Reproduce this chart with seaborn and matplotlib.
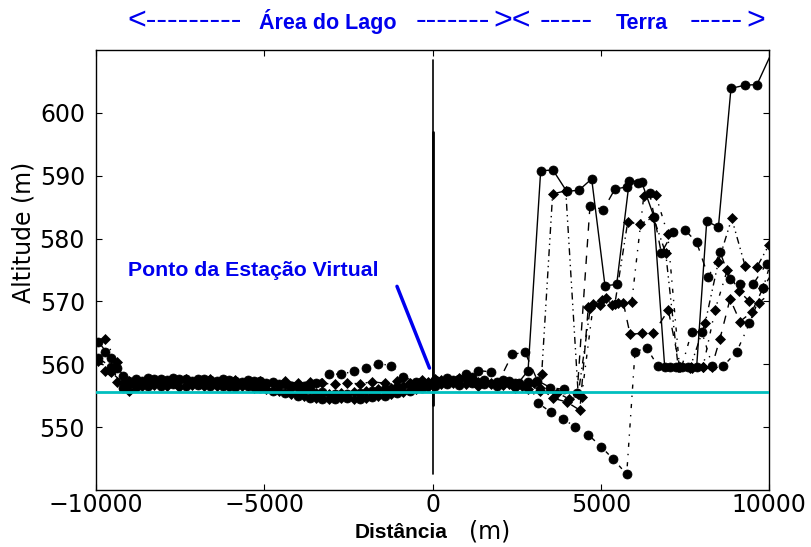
import matplotlib
matplotlib.use("Agg")
import matplotlib.pyplot as plt
import pandas as pd
import seaborn as sns

# Along-track sampling positions (m) over the lake, two interleaved passes
grid_a = [-9930, -9560, -9190, -8820, -8450, -8080, -7710, -7340, -6970, -6600,
          -6230, -5860, -5490, -5120, -4750, -4380, -4010, -3640, -3270, -2900,
          -2530, -2160, -1790, -1420, -1050, -680, -310, 60, 430, 800,
          1170, 1540, 1910]
grid_b = [-9745, -9375, -9005, -8635, -8265, -7895, -7525, -7155, -6785, -6415,
          -6045, -5675, -5305, -4935, -4565, -4195, -3825, -3455, -3085, -2715,
          -2345, -1975, -1605, -1235, -865, -495, -125, 245, 615, 985,
          1355, 1725, 2095]

# Track A (solid, circles)
alt_a_lake = [563.6, 561.0, 558.2, 557.6, 557.8, 557.7, 557.8, 557.6, 557.7, 557.5,
              557.6, 557.4, 557.5, 557.3, 557.2, 556.8, 556.4, 556.0, 555.6, 555.3,
              555.2, 555.4, 555.7, 556.0, 556.4, 556.8, 557.2, 557.5, 557.8, 557.6,
              557.9, 557.5, 557.2]
dist_a_land = [2280, 2560, 2840, 3215, 3580, 3990, 4355, 4730, 5126, 5473, 5850, 6215,
               6580, 6900, 7250, 7600, 7850, 8150, 8496, 8870, 9286, 9643, 10340]
alt_a_land = [557.4, 557.1, 559.0, 590.8, 590.9, 587.5, 587.7, 589.5, 572.5, 572.7,
              589.2, 589.0, 583.5, 559.6, 559.6, 559.5, 559.6, 582.8, 581.8, 603.9,
              604.4, 604.5, 612.6]

# Track B (dash-dot, circles)
alt_b_lake = [562.0, 559.4, 556.8, 557.4, 557.6, 557.5, 557.7, 557.4, 557.6, 557.4,
              557.5, 557.2, 557.4, 557.1, 556.8, 556.6, 556.5, 557.0, 558.5, 558.4,
              558.9, 559.4, 560.1, 559.8, 558.0, 557.2, 557.0, 557.3, 557.5, 558.5,
              559.0, 558.8, 557.5]
dist_b_land = [2465, 2835, 3150, 3510, 3870, 4235, 4630, 5008, 5374, 5771, 6018, 6365,
               6700, 7050, 7400, 7700, 8000, 8320, 8640, 9040, 9420, 9830, 10150]
alt_b_land = [557.0, 557.2, 553.8, 552.4, 551.3, 550.1, 548.8, 546.9, 544.9, 542.5,
              562.0, 562.6, 559.7, 559.6, 559.5, 565.1, 565.2, 559.7, 559.7, 562.0,
              566.5, 572.2, 578.0]

# Track C (dash-dot-dot, diamonds)
alt_c_lake = [560.6, 558.8, 557.0, 557.3, 557.2, 557.5, 557.3, 557.6, 557.4, 557.6,
              557.3, 557.5, 557.2, 557.4, 557.1, 557.3, 557.0, 557.2, 557.0, 556.8,
              557.0, 556.9, 557.2, 557.0, 557.3, 557.1, 557.5, 557.6, 557.4, 557.8,
              557.5, 557.3, 557.0]
dist_c_land = [2280, 2650, 3020, 3245, 3570, 3960, 4330, 4690, 5050, 5420, 5800, 6180,
               6560, 6930, 7300, 7650, 8100, 8496, 8892, 9287, 9633, 10000]
alt_c_land = [556.8, 556.6, 557.0, 558.5, 587.1, 587.6, 555.2, 569.0, 570.3, 569.6,
              582.6, 582.3, 583.4, 577.7, 559.6, 559.4, 566.5, 576.3, 583.2, 575.7,
              575.4, 579.0]

# Track D (dashed, diamonds)
alt_d_lake = [559.0, 557.2, 555.8, 556.5, 556.7, 556.6, 556.4, 556.7, 556.5, 556.6,
              556.4, 556.5, 556.3, 556.0, 555.7, 555.3, 554.9, 554.6, 554.4, 554.6,
              554.5, 554.7, 554.9, 555.2, 555.6, 556.0, 556.4, 556.8, 557.0, 556.8,
              556.6, 556.9, 556.7]
dist_d_land = [2465, 2835, 3205, 3590, 3990, 4380, 4630, 4978, 5324, 5670, 5870, 6215,
               6560, 7008, 7350, 7700, 8050, 8300, 8545, 8843, 9138, 9485, 9830, 10150]
alt_d_land = [556.5, 556.8, 556.2, 554.6, 554.0, 552.7, 569.1, 569.5, 569.5, 569.8,
              564.8, 564.9, 564.9, 568.6, 559.6, 559.4, 559.6, 559.6, 564.1, 570.4,
              566.8, 568.3, 572.2, 575.0]

# Track E (dashed, circles)
alt_e_lake = [561.0, 559.6, 556.2, 556.4, 556.6, 556.5, 556.8, 556.6, 556.7, 556.5,
              556.6, 556.4, 556.5, 556.2, 555.8, 555.4, 555.0, 554.6, 554.5, 554.4,
              554.6, 554.5, 554.8, 555.0, 555.4, 555.8, 556.2, 556.6, 556.9, 556.7,
              557.0, 556.8, 556.6]
dist_e_land = [2370, 2750, 3120, 3500, 3900, 4300, 4680, 5077, 5424, 5771, 6100, 6450,
               6800, 7150, 7500, 7850, 8200, 8550, 8843, 9138, 9534, 9930]
alt_e_land = [561.6, 561.9, 557.4, 556.3, 556.0, 555.5, 585.2, 584.6, 587.9, 588.2,
              588.8, 587.3, 577.7, 581.1, 581.4, 579.4, 573.9, 577.8, 573.5, 572.8,
              572.8, 576.0]

# Track F (dash-dot, diamonds)
alt_f_lake = [564.0, 560.4, 557.4, 557.0, 557.2, 557.0, 557.3, 557.1, 557.2, 557.0,
              557.1, 556.9, 557.0, 556.7, 556.5, 556.2, 555.8, 555.5, 555.3, 555.4,
              555.6, 555.8, 556.0, 556.3, 556.6, 556.9, 557.2, 557.5, 557.3, 557.6,
              557.2, 557.0, 556.8]
dist_f_land = [2465, 2835, 3205, 3700, 4050, 4430, 4780, 5150, 5520, 5920, 6280, 6630,
               6990, 7340, 7690, 8040, 8400, 8760, 9100, 9400, 9700, 10200]
alt_f_land = [556.3, 556.0, 555.8, 555.5, 554.5, 554.8, 569.6, 570.6, 569.8, 569.9,
              586.8, 587.0, 580.7, 559.6, 559.5, 559.6, 568.7, 575.0, 571.7, 570.1,
              569.8, 572.0]

# Reference water level and virtual station
water_level = 555.6
station_dist = 0
station_alt = [542.5, 608.4]
station_core = [553.5, 597.0]

x_ticks = [-10000, -5000, 0, 5000, 10000]
y_ticks = [550, 560, 570, 580, 590, 600]

sns.set_style("ticks")
plt.rcParams["font.family"] = ["DejaVu Sans"]
plt.rcParams["text.color"] = "black"
plt.rcParams["axes.labelcolor"] = "black"
plt.rcParams["xtick.direction"] = "in"
plt.rcParams["ytick.direction"] = "in"

W, H = 811, 547
fig = plt.figure(figsize=(W / 100, H / 100), dpi=100)
ax = fig.add_axes([96 / W, 57 / H, 673 / W, 440 / H])

dashdotdot = (0, (5, 3, 1, 3, 1, 3))
tracks = [
    (grid_a, alt_a_lake, dist_a_land, alt_a_land, "-", "o", 6.5),
    (grid_b, alt_b_lake, dist_b_land, alt_b_land, (0, (3, 5, 1, 5)), "o", 6.5),
    (grid_a, alt_c_lake, dist_c_land, alt_c_land, dashdotdot, "D", 5.2),
    (grid_b, alt_d_lake, dist_d_land, alt_d_land, (0, (6, 6)), "D", 5.2),
    (grid_a, alt_e_lake, dist_e_land, alt_e_land, (0, (6, 6)), "o", 6.5),
    (grid_b, alt_f_lake, dist_f_land, alt_f_land, (0, (3, 5, 1, 5)), "D", 5.2),
]
for lake_x, lake_y, land_x, land_y, ls, mk, ms in tracks:
    df = pd.DataFrame({"dist": list(lake_x) + list(land_x),
                       "alt": list(lake_y) + list(land_y)})
    sns.lineplot(data=df, x="dist", y="alt", ax=ax, color="black", linestyle=ls,
                 linewidth=1.0, marker=mk, markersize=ms, markeredgecolor="black",
                 markeredgewidth=0.5, estimator=None, sort=False, legend=False,
                 zorder=3)

ax.axhline(water_level, color=(0, 0.75, 0.75), linewidth=2, zorder=5)
ax.plot([station_dist, station_dist], station_alt, color="black", linewidth=1.2, zorder=4)
ax.plot([station_dist, station_dist], station_core, color="black", linewidth=2.0, zorder=4)

ax.set_xlim(-10000, 10000)
ax.set_ylim(540, 610)
ax.set_xticks(x_ticks)
ax.set_yticks(y_ticks)
ax.tick_params(axis="both", which="both", direction="in", length=4, width=0.8,
               top=True, right=True, labelsize=17, colors="black")
ax.tick_params(axis="x", pad=2)
ax.tick_params(axis="y", pad=8)
for s in ax.spines.values():
    s.set_linewidth(1.0)
    s.set_color("black")
ax.set_xlabel("")
ax.set_ylabel("")

# Axis titles
fig.text(24 / W, 1 - 232 / H, "Altitude (m)", rotation=90, ha="center", va="center",
         fontsize=17, color="black")
fig.text(401 / W, 1 - 532 / H, "Distância", ha="center", va="center", fontsize=15,
         fontweight="bold", color="black", family=["Liberation Sans", "DejaVu Sans"])
fig.text(490 / W, 1 - 531 / H, "(m)", ha="center", va="center", fontsize=17, color="black")

# Region banner above the plot
blue = "#0000ee"
banner_base = 1 - 29 / H
arial = ["Liberation Sans", "DejaVu Sans"]
pieces = [
    (127, "<---------", "normal", 23),
    (259, "Área do Lago", "bold", 15.5),
    (416, "-------", "normal", 23),
    (493, "><", "normal", 23),
    (540, "-----", "normal", 23),
    (616, "Terra", "bold", 15.5),
    (690, "-----", "normal", 23),
    (746, ">", "normal", 23),
]
for px, txt, wt, fs in pieces:
    fig.text(px / W, banner_base, txt, ha="left", va="baseline", color=blue,
             fontsize=fs, fontweight=wt, family=arial)

# Virtual station label and pointer
fig.text(128 / W, 1 - 270 / H, "Ponto da Estação Virtual", ha="left", va="center",
         color=blue, fontsize=15.3, fontweight="bold", family=arial)
ax.plot([-1055, -90], [572.4, 559.4], color=blue, linewidth=2.5, zorder=6)

fig.savefig("out.png", dpi=100)
